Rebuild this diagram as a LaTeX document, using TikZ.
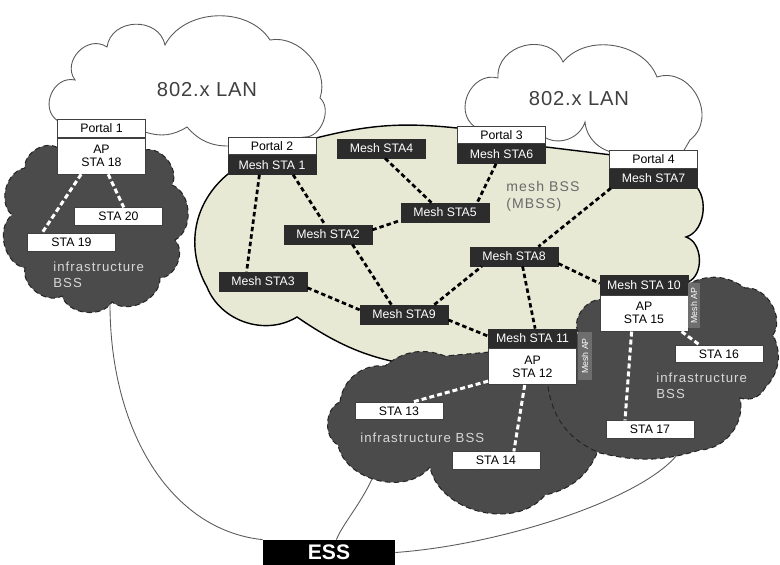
\documentclass[tikz,border=0pt]{standalone}
\usepackage{fontspec}
\setmainfont{Liberation Sans}
\newfontfamily\spacedsans[LetterSpace=8]{Liberation Sans}
\newfontfamily\lansans[LetterSpace=4]{Liberation Sans}
\usepackage{tikz}
\usetikzlibrary{positioning,calc}
\definecolor{clMesh}{HTML}{E7E9D5}
\definecolor{clDark}{HTML}{4B4B4B}
\definecolor{clMeshBox}{HTML}{2C2C2C}
\definecolor{clStrip}{HTML}{6E6E6E}
\definecolor{clWire}{HTML}{5A5A5A}
\definecolor{clLabel}{HTML}{6A6A6A}
\definecolor{clInfraText}{HTML}{D8D8D8}
\tikzset{
  whitebox/.style={rectangle, draw=black!75, line width=0.4pt, fill=white, text=black,
                   inner sep=0pt, minimum width=17.6mm, minimum height=3.5mm, align=center,
                   font=\fontsize{7}{7.5}\selectfont},
  meshbox/.style={whitebox, draw=clMeshBox, fill=clMeshBox, text=white, minimum height=3.8mm},
  apbox/.style={whitebox, minimum height=7.2mm},
  stabox/.style={whitebox, minimum height=3.5mm},
  apstrip/.style={rectangle, fill=clStrip, text=white, inner sep=0pt, rotate=90,
                  font=\fontsize{5}{5}\selectfont},
  essbox/.style={rectangle, fill=black, text=white, inner sep=0pt, minimum width=26.4mm,
                 minimum height=5mm, font=\fontsize{12}{12}\selectfont\bfseries},
  lancloud/.style={draw=black!65, line width=0.5pt, fill=white},
  meshcloud/.style={draw=black, line width=0.8pt, fill=clMesh},
  bsscloud/.style={draw=black!85, line width=0.6pt, densely dashed, fill=clDark},
  lobe/.style={bend left=65},
  puff/.style={bend left=80, looseness=1.3},
  meshlink/.style={draw=black, line width=0.55mm, dash pattern=on 0.9mm off 0.6mm},
  stalink/.style={draw=white, line width=0.6mm, dash pattern=on 1mm off 0.6mm},
  esslink/.style={draw=clWire, line width=0.5pt},
  lantext/.style={font=\lansans\fontsize{11.5}{12}\selectfont, text=black!75},
  infratext/.style={font=\spacedsans\fontsize{7.5}{9}\selectfont, text=clInfraText,
                    align=left, inner sep=0pt},
  mbsstext/.style={font=\spacedsans\fontsize{8}{9.5}\selectfont, text=clLabel,
                   align=left, inner sep=0pt},
}

\begin{document}
\begin{tikzpicture}[x=0.2mm, y=-0.2mm]
  \useasboundingbox (0,0) rectangle (780,565);

  % clouds
  \path[lancloud] (58,121) to[puff] (75,80) to[puff] (107,47) to[puff] (165,45)
    to[bend left=60] (270,40) to[bend left=60] (320,98) to[bend left=70] (305,137)
    -- (230,146) to[bend left=25] (187,127) to[bend left=25] (145,132) -- cycle;
  \path[lancloud] (475,127) to[puff] (498,78) to[puff] (563,62) to[bend left=60] (657,77)
    to[puff] (690,140) -- (683,152) -- (627,152) to[bend left=50] (585,122)
    to[bend left=50] (546,138) -- cycle;
  \path[meshcloud] (228,174) -- (316,138) to[bend left=10] (457,128) -- (546,147)
    -- (612,155) -- (690,182) to[bend left=70] (686,237) to[bend left=70] (688,282)
    -- (620,300) -- (590,335) -- (490,360) -- (440,368) to[bend left=15] (297,317)
    to[bend left=50] (207,287) to[bend left=40] (228,174) -- cycle;
  \path[bsscloud] (145,150) to[lobe] (172,185) to[lobe] (175,240) to[lobe] (160,278)
    to[lobe] (112,302) to[lobe] (62,296) to[lobe] (25,268) to[lobe] (12,215)
    to[lobe] (25,168) to[lobe] (58,148) -- cycle;
  \path[bsscloud] (340,402) to[bend left=45] (385,366) to[bend left=30] (445,356)
    -- (490,352) -- (580,383) -- (600,445) to[bend left=30] (545,495) to[lobe] (430,467)
    to[lobe] (338,445) to[lobe] (340,402) -- cycle;
  \path[bsscloud] (578,332) to[lobe] (605,300) -- (690,283) to[bend left=30] (745,288)
    to[lobe] (773,335) to[bend left=35] (765,388) to[bend left=40] (740,398)
    to[bend left=50] (700,450) to[bend left=15] (600,453) to[bend left=30] (548,386)
    -- (560,380) -- cycle;

  \coordinate (bssa) at (110,304);
  \coordinate (bssb) at (372,479);
  \coordinate (bssc) at (677,455);

  \node[lantext] (lana) at (207,90) {802.x LAN};
  \node[lantext] (lanb) at (579,99) {802.x LAN};
  \node[mbsstext, anchor=north west] (mbss) at (506,181) {mesh BSS\\(MBSS)};
  \node[infratext, anchor=north west] (infraa) at (53,262) {infrastructure\\BSS};
  \node[infratext, anchor=west] (infrab) at (360,438) {infrastructure BSS};
  \node[infratext, anchor=north west] (infrac) at (656,373) {infrastructure\\BSS};

  % stations
  \node[whitebox] (p1) at (101.5,128.5) {Portal 1};
  \node[apbox, below=0pt of p1] (ap18) {AP\\STA 18};
  \node[stabox] (s20) at (118.5,216.5) {STA 20};
  \node[stabox] (s19) at (71.5,242.5) {STA 19};
  \node[whitebox] (p2) at (272,146) {Portal 2};
  \node[meshbox, below=0pt of p2] (m1) {Mesh STA 1};
  \node[meshbox] (m4) at (381.5,148.5) {Mesh STA4};
  \node[meshbox] (m5) at (445,212.5) {Mesh STA5};
  \node[meshbox] (m2) at (328,234.5) {Mesh STA2};
  \node[meshbox] (m3) at (263,281.5) {Mesh STA3};
  \node[whitebox] (p3) at (501.5,135) {Portal 3};
  \node[meshbox, below=0pt of p3] (m6) {Mesh STA6};
  \node[whitebox] (p4) at (653.5,159.5) {Portal 4};
  \node[meshbox, below=0pt of p4] (m7) {Mesh STA7};
  \node[meshbox] (m8) at (514,256.5) {Mesh STA8};
  \node[meshbox] (m9) at (404,314.5) {Mesh STA9};
  \node[meshbox] (m10) at (644,285) {Mesh STA 10};
  \node[apbox, below=0pt of m10] (ap15) {AP\\STA 15};
  \node[meshbox] (m11) at (532.5,338.5) {Mesh STA 11};
  \node[apbox, below=0pt of m11] (ap12) {AP\\STA 12};
  \node[stabox] (s13) at (399,411) {STA 13};
  \node[stabox] (s14) at (496,460.5) {STA 14};
  \node[stabox] (s16) at (719,354) {STA 16};
  \node[stabox] (s17) at (650,429.5) {STA 17};
  \node[apstrip, minimum width=9.6mm, minimum height=2.8mm] (apa) at (585,356) {Mesh AP};
  \node[apstrip, minimum width=9mm, minimum height=2.4mm] (apb) at (694,305.5) {Mesh AP};
  \node[essbox] (ess) at (329,552.5) {ESS};

  % mesh links
  \draw[meshlink] (m1.-142) -- (m3.149);
  \draw[meshlink] (m1.-25) -- (m2.107);
  \draw[meshlink] (m4.-70) -- (m5.144);
  \draw[meshlink] (m2.6) -- (m5.-170);
  \draw[meshlink] (m6.-119) -- (m5.17);
  \draw[meshlink] (m2.-22) -- (m9.142);
  \draw[meshlink] (m3.-8) -- (m9.174);
  \draw[meshlink] (m9.18) -- (m8.-163);
  \draw[meshlink] (m7.-167) -- (m8.22);
  \draw[meshlink] (m8.-9) -- (m10.178);
  \draw[meshlink] (m8.-49) -- (m11.75);
  \draw[meshlink] (m9.-7) -- (m11.177);

  % station links
  \draw[stalink] (ap18.-138) -- (s19.163);
  \draw[stalink] (ap18.-70) -- (s20.60);
  \draw[stalink] (ap12.-162) -- (s13.33);
  \draw[stalink] (ap12.-113) -- (s14.27);
  \draw[stalink] (ap15.-124) -- (s17.160);
  \draw[stalink] (ap15.-26) -- (s16.155);

  % distribution system
  \draw[esslink] (bssa) .. controls (110,430) and (170,530) .. (ess.north west);
  \draw[esslink] (bssb) .. controls (360,505) and (342,525) .. (ess.60);
  \draw[esslink] (ess.east) .. controls (500,545) and (640,500) .. (bssc);
\end{tikzpicture}
\end{document}
